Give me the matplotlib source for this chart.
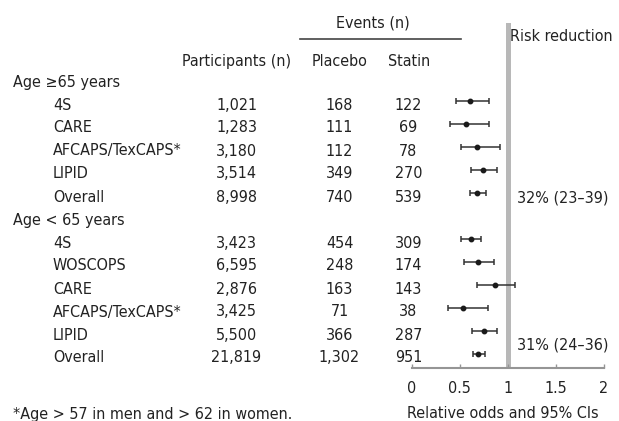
import matplotlib
matplotlib.use("Agg")
import matplotlib.pyplot as plt

plt.rcParams['font.family'] = ['DejaVu Sans']
plt.rcParams['font.stretch'] = 'condensed'

# ---- data -------------------------------------------------------------
group_labels = ["Age \u226565 years", "Age < 65 years"]
studies_old = ["4S", "CARE", "AFCAPS/TexCAPS*", "LIPID", "Overall"]
participants_old = ["1,021", "1,283", "3,180", "3,514", "8,998"]
placebo_old = ["168", "111", "112", "349", "740"]
statin_old = ["122", "69", "78", "270", "539"]
odds_old = [0.61, 0.57, 0.68, 0.74, 0.68]
lo_old = [0.46, 0.40, 0.51, 0.62, 0.61]
hi_old = [0.81, 0.80, 0.92, 0.89, 0.77]

studies_young = ["4S", "WOSCOPS", "CARE", "AFCAPS/TexCAPS*", "LIPID", "Overall"]
participants_young = ["3,423", "6,595", "2,876", "3,425", "5,500", "21,819"]
placebo_young = ["454", "248", "163", "71", "366", "1,302"]
statin_young = ["309", "174", "143", "38", "287", "951"]
odds_young = [0.62, 0.69, 0.87, 0.53, 0.75, 0.69]
lo_young = [0.51, 0.55, 0.68, 0.38, 0.63, 0.64]
hi_young = [0.72, 0.86, 1.08, 0.79, 0.89, 0.76]

risk_reduction = ["32% (23\u201339)", "31% (24\u201336)"]
x_ticks = [0, 0.5, 1, 1.5, 2]
x_tick_labels = ["0", "0.5", "1", "1.5", "2"]

# ---- layout -------------------------------------------------------------
W, H = 619, 421
fig = plt.figure(figsize=(W / 100, H / 100), dpi=100)
fig.patch.set_facecolor("white")

ROW0, STEP = 80.5, 23.0      # pixel centre of the first table row, row pitch
MARK_SHIFT = 3.0             # interval marks sit slightly above the text centre
BASE = 6.0                   # baseline offset from the text centre
AX_TOP, AX_BOT = 23.0, 367.5
X0, X2 = 411.7, 603.7
FS = 11.5
INK = "#222222"


def row_px(r):
    return ROW0 + STEP * r


# text layer in figure pixels (y downwards)
tx = fig.add_axes([0, 0, 1, 1])
tx.set_xlim(0, W)
tx.set_ylim(H, 0)
tx.axis("off")


def put(x, y, s, ha="left"):
    tx.text(x, y, s, ha=ha, va="baseline", fontsize=FS, color=INK)


# forest axes, rows as y units
def mark_row(py):
    return (py - ROW0 + MARK_SHIFT) / STEP


fx = fig.add_axes([X0 / W, (H - AX_BOT) / H, (X2 - X0) / W, (AX_BOT - AX_TOP) / H])
fx.set_xlim(0, 2)
fx.set_ylim(mark_row(AX_BOT), mark_row(AX_TOP))
fx.patch.set_alpha(0)
for s in ("top", "right", "left"):
    fx.spines[s].set_visible(False)
fx.spines["bottom"].set_color("#959595")
fx.spines["bottom"].set_linewidth(1.5)
fx.set_yticks([])
fx.set_xticks(x_ticks)
fx.set_xticklabels(x_tick_labels)
fx.tick_params(axis="x", direction="in", length=3, width=1, color="#959595",
               labelsize=FS, labelcolor=INK, pad=9.5)
fx.axvline(1, color="#b8b8b8", lw=3.6, zorder=1)

COL_NAME, COL_HEAD = 53, 13
COL_PART, COL_PLAC, COL_STAT = 236.5, 339.5, 408.5

r = 0
for g, (names, parts, plac, stat, odds, lo, hi) in enumerate([
        (studies_old, participants_old, placebo_old, statin_old, odds_old, lo_old, hi_old),
        (studies_young, participants_young, placebo_young, statin_young, odds_young, lo_young, hi_young)]):
    put(COL_HEAD, row_px(r) + BASE, group_labels[g])
    r += 1
    for i in range(len(names)):
        y = row_px(r) + BASE
        put(COL_NAME, y, names[i])
        put(COL_PART, y, parts[i], "center")
        put(COL_PLAC, y, plac[i], "center")
        put(COL_STAT, y, stat[i], "center")
        fx.errorbar(odds[i], r, xerr=[[odds[i] - lo[i]], [hi[i] - odds[i]]],
                    fmt="o", ms=3.2, color="#1a1a1a", ecolor="#333333",
                    elinewidth=1.1, capsize=1.9, capthick=1.1, zorder=3)
        r += 1

put(516.7, 202.5, risk_reduction[0])
put(516.7, 349.5, risk_reduction[1])

# column headings
put(373, 27.3, "Events (n)", "center")
tx.plot([300, 461], [39, 39], color="#444444", lw=1.2)
put(236.7, 66.3, "Participants (n)", "center")
put(340, 66.3, "Placebo", "center")
put(408.7, 66.3, "Statin", "center")
put(510, 40.7, "Risk reduction")

# footnote and axis title
put(13, 418.5, "*Age > 57 in men and > 62 in women.")
put(502.5, 418.5, "Relative odds and 95% CIs", "center")

fig.savefig("out.png", dpi=100, facecolor="white")
